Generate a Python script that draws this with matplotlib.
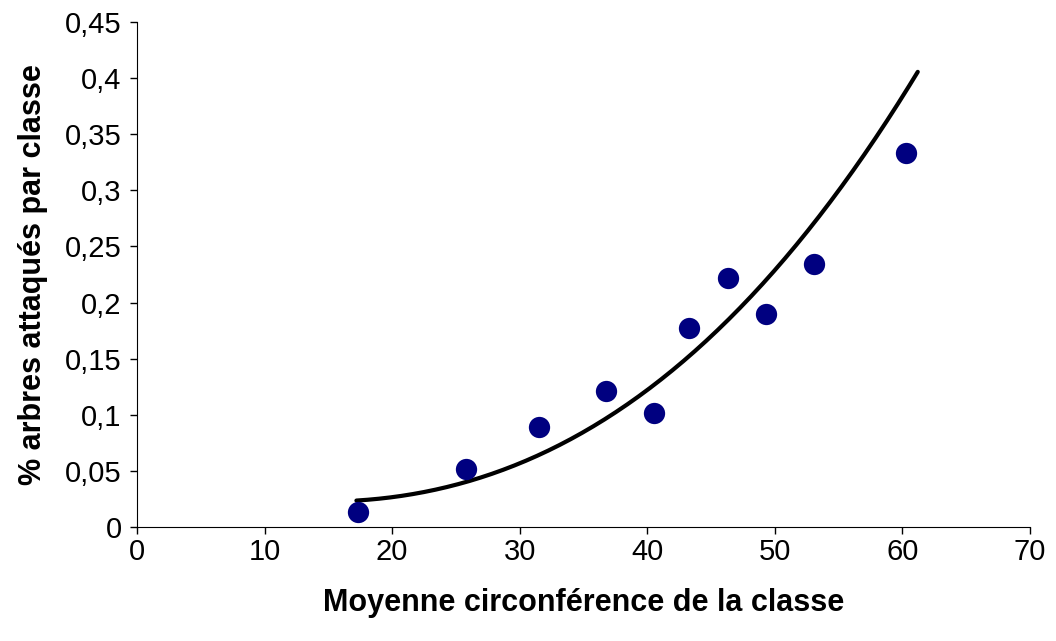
import numpy as np
import matplotlib.pyplot as plt
from matplotlib.ticker import FuncFormatter

plt.rcParams['font.family'] = ['Liberation Sans', 'DejaVu Sans']

# mean circumference per class and share of attacked trees
circ = [17.3, 25.8, 31.5, 36.8, 40.5, 43.3, 46.3, 49.3, 53.1, 60.3]
attacked = [0.013, 0.052, 0.089, 0.121, 0.102, 0.177, 0.222, 0.190, 0.234, 0.333]

# trend curve values (circumference, fitted share)
trend_x = [17.2, 20, 30, 40, 50, 60, 61.2]
trend_y = [0.021, 0.030, 0.057, 0.119, 0.232, 0.381, 0.407]

fig = plt.figure(figsize=(10.56, 6.41), dpi=100)
ax = fig.add_axes([0.1297, 0.1778, 0.8457, 0.7879])

coef = np.polyfit(trend_x, trend_y, 3)
xs = np.linspace(min(trend_x), max(trend_x), 200)
ax.plot(xs, np.polyval(coef, xs), color='black', lw=3, solid_capstyle='round')

ax.scatter(circ, attacked, s=235, color='#000080', zorder=3, linewidths=0)

ax.set_xlim(0, 70)
ax.set_ylim(0, 0.45)
ax.set_xticks(np.arange(0, 71, 10))
ax.set_yticks(np.arange(0, 0.451, 0.05))
ax.yaxis.set_major_formatter(FuncFormatter(lambda v, p: ('%g' % round(v, 2)).replace('.', ',')))
for s in ['top', 'right']:
    ax.spines[s].set_visible(False)
ax.tick_params(direction='out', length=5, width=1, labelsize=21)
ax.tick_params(axis='y', pad=6)
ax.tick_params(axis='x', pad=3)
ax.set_xlabel('Moyenne circonférence de la classe', fontsize=22, fontweight='bold', labelpad=16)
ax.set_ylabel('% arbres attaqués par classe', fontsize=22, fontweight='bold', labelpad=12)

fig.savefig('out.png', dpi=100)
